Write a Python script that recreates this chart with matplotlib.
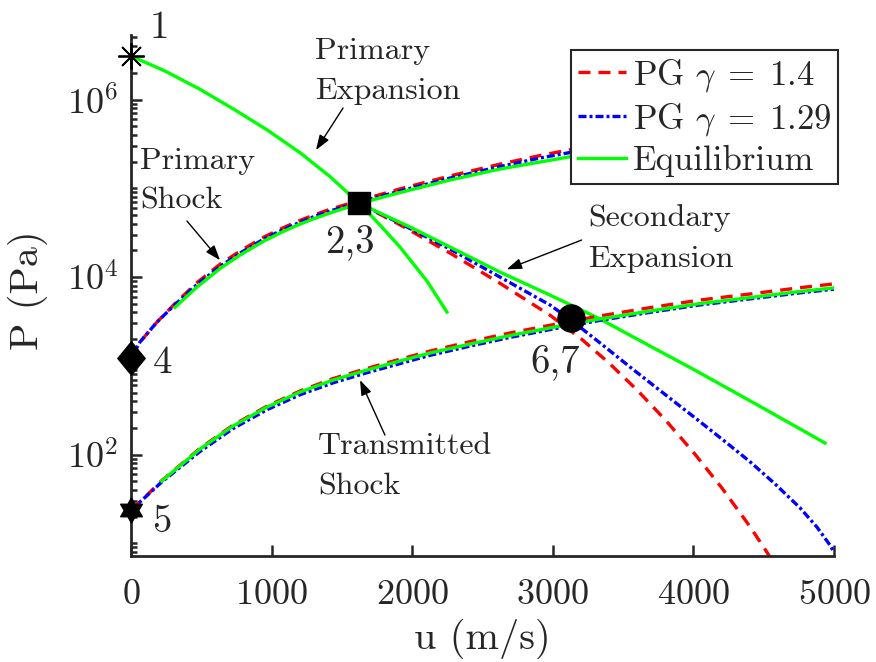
import numpy as np
import matplotlib
matplotlib.use('Agg')
import matplotlib.pyplot as plt
from matplotlib.path import Path
from matplotlib.patches import ArrowStyle
from matplotlib.ticker import LogLocator, NullFormatter

plt.rcParams.update({
    'font.family': 'serif',
    'font.serif': ['cmr10'],
    'mathtext.fontset': 'cm',
    'axes.formatter.use_mathtext': True,
    'axes.unicode_minus': False,
})

INK = '#262626'

# values; pressures given as log10(P / Pa)
# primary expansion (equilibrium only), from state 1 through 2,3
u_pexp = [0, 242, 491, 740, 967, 1202, 1415, 1624, 1771, 1913, 2105, 2247]
lp_pexp_eq = [6.49, 6.321, 6.115, 5.882, 5.659, 5.401, 5.132, 4.830, 4.586,
              4.338, 3.955, 3.606]

# primary shock, from state 4
u_pshk = [0, 64, 185, 313, 469, 633, 782, 939, 1060, 1181, 1294, 1415, 1522,
          1622, 1913, 2269, 2624, 2909, 3336, 4047, 5000]
lp_pshk_14 = [3.087, 3.268, 3.493, 3.701, 3.937, 4.144, 4.299, 4.445, 4.539,
              4.625, 4.695, 4.763, 4.814, 4.861, 4.993, 5.139, 5.272, 5.369,
              5.501, 5.692, 5.919]
lp_pshk_129 = [3.087, 3.268, 3.493, 3.690, 3.916, 4.119, 4.276, 4.423, 4.518,
               4.603, 4.676, 4.743, 4.796, 4.845, 4.969, 5.115, 5.245, 5.341,
               5.465, 5.645, 5.859]
u_pshk_eq = [313, 469, 633, 782, 939, 1060, 1181, 1294, 1415, 1522, 1622,
             1913, 2269, 2624, 2909, 3336, 4047, 5000]
lp_pshk_eq = [3.659, 3.887, 4.096, 4.254, 4.400, 4.496, 4.583, 4.654, 4.721,
              4.777, 4.828, 4.952, 5.093, 5.217, 5.296, 5.414, 5.589, 5.792]

# secondary expansion, from state 2,3
u_sexp_14 = [1622, 1900, 2269, 2624, 2980, 3200, 3400, 3600, 3800, 4000, 4200,
             4400, 4523, 4600]
lp_sexp_14 = [4.83, 4.60, 4.27, 3.93, 3.57, 3.306, 3.031, 2.726, 2.391, 2.026,
              1.629, 1.194, 0.90, 0.70]
u_sexp_129 = [1622, 1900, 2269, 2624, 2980, 3130, 3350, 3570, 3800, 4047, 4230,
              4402, 4580, 4758, 4880, 4971, 5000]
lp_sexp_129 = [4.83, 4.615, 4.315, 4.0, 3.685, 3.515, 3.24, 2.96, 2.675, 2.37,
               2.14, 1.92, 1.67, 1.40, 1.18, 0.98, 0.90]
u_sexp_eq = [1622, 2000, 2269, 2624, 2980, 3336, 3700, 3997, 4495, 4936]
lp_sexp_eq = [4.83, 4.552, 4.338, 4.056, 3.797, 3.527, 3.215, 2.963, 2.524,
              2.13]

# transmitted shock, from state 5
u_tshk = [0, 107, 218, 491, 725, 967, 1202, 1437, 1678, 1913, 2127, 2411, 2695,
          3051, 3336, 3691, 4047, 4403, 4758, 5000]
lp_tshk_14 = [1.375, 1.532, 1.705, 2.07, 2.331, 2.545, 2.716, 2.856, 2.97,
              3.074, 3.166, 3.272, 3.37, 3.478, 3.562, 3.655, 3.741, 3.809,
              3.88, 3.923]
lp_tshk_129 = [1.375, 1.528, 1.69, 2.035, 2.292, 2.505, 2.674, 2.808, 2.922,
               3.025, 3.118, 3.222, 3.32, 3.43, 3.512, 3.602, 3.686, 3.754,
               3.822, 3.863]
u_tshk_eq = [218, 491, 725, 967, 1202, 1437, 1678, 1913, 2127, 2411, 2695,
             3051, 3336, 3691, 4047, 4403, 4758, 5000]
lp_tshk_eq = [1.701, 2.062, 2.321, 2.535, 2.704, 2.839, 2.952, 3.054, 3.144,
              3.245, 3.341, 3.448, 3.528, 3.617, 3.701, 3.769, 3.837, 3.878]

# states 1, 2/3, 4, 5, 6/7
state_u = [0, 1624, 0, 0, 3130]
state_lp = [6.49, 4.83, 3.087, 1.375, 3.535]


def P(lp):
    return 10.0 ** np.asarray(lp)


# marker shapes
diamond = Path([(0, 1), (0.82, 0), (0, -1), (-0.82, 0), (0, 1)],
               [Path.MOVETO, Path.LINETO, Path.LINETO, Path.LINETO,
                Path.CLOSEPOLY])
ang = np.deg2rad(90 + 30 * np.arange(12))
rad = np.where(np.arange(12) % 2 == 0, 1.0, 1 / np.sqrt(3))
hexv = np.column_stack([rad * np.cos(ang), rad * np.sin(ang)])
hexagram = Path(np.vstack([hexv, hexv[:1]]),
                [Path.MOVETO] + [Path.LINETO] * 11 + [Path.CLOSEPOLY])

fig = plt.figure(figsize=(8.76, 6.62), dpi=100)
ax = fig.add_axes([131 / 876, 106 / 662, 703 / 876, 521 / 662])

red = dict(color='#ff0000', lw=2.4, linestyle=(0, (3.6, 2.4)))
blue = dict(color='#0000ff', lw=2.4, linestyle=(0, (2.4, 0.9, 0.9, 0.9)))
green = dict(color='#00ff00', lw=2.4, linestyle='-')

ax.plot(u_pshk, P(lp_pshk_14), **red, label=r'PG $\gamma\;=\;1.4$')
ax.plot(u_pshk, P(lp_pshk_129), **blue, label=r'PG $\gamma\;=\;1.29$')
ax.plot(u_pshk_eq, P(lp_pshk_eq), **green, label='Equilibrium')

ax.plot(u_sexp_14, P(lp_sexp_14), **red)
ax.plot(u_sexp_129, P(lp_sexp_129), **blue)
ax.plot(u_sexp_eq, P(lp_sexp_eq), **green)

ax.plot(u_tshk, P(lp_tshk_14), **red)
ax.plot(u_tshk, P(lp_tshk_129), **blue)
ax.plot(u_tshk_eq, P(lp_tshk_eq), **green)

ax.plot(u_pexp, P(lp_pexp_eq), **green)

# state markers
ax.plot(state_u[0], P(state_lp[0]), marker=(8, 2, 0), ms=19, mew=1.3,
        color='k', clip_on=False, zorder=5)
ax.plot(state_u[1], P(state_lp[1]), marker='s', ms=16, color='k',
        clip_on=False, zorder=5)
ax.plot(state_u[2], P(state_lp[2]), marker=diamond, ms=24, color='k',
        clip_on=False, zorder=5)
ax.plot(state_u[3], P(state_lp[3]), marker=hexagram, ms=18, color='k',
        clip_on=False, zorder=5)
ax.plot(state_u[4], P(state_lp[4]), marker='o', ms=19.5, color='k',
        clip_on=False, zorder=5)

# state labels
lab = dict(fontsize=28, color=INK)
ax.text(135, P(6.693), '1', ha='left', va='baseline', **lab)
ax.text(1558, P(4.27), '2,3', ha='center', va='baseline', **lab)
ax.text(156, P(2.918), '4', ha='left', va='baseline', **lab)
ax.text(149, P(1.127), '5', ha='left', va='baseline', **lab)
ax.text(3015, P(2.918), '6,7', ha='center', va='baseline', **lab)

# wave annotations
note = dict(fontsize=23, color=INK, ha='left', va='center', linespacing=1.6)
head = ArrowStyle('-|>', head_length=0.7, head_width=0.25)
arw = dict(arrowstyle=head, color='k', lw=1.0, mutation_scale=13,
           shrinkA=0, shrinkB=0)

ax.text(1309, P(6.321), 'Primary\nExpansion', **note)
ax.annotate('', xy=(1316, P(5.431)), xytext=(1508, P(5.904)), arrowprops=arw)

ax.text(64, P(5.082), 'Primary\nShock', **note)
ax.annotate('', xy=(633, P(4.19)), xytext=(398, P(4.631)), arrowprops=arw)

ax.text(3250, P(4.434), 'Secondary\nExpansion', **note)
ax.annotate('', xy=(2672, P(4.087)), xytext=(3205, P(4.417)), arrowprops=arw)

ax.text(1330, P(1.863), 'Transmitted\nShock', **note)
ax.annotate('', xy=(1629, P(2.839)), xytext=(1806, P(2.22)), arrowprops=arw)

# axes
ax.set_yscale('log')
ax.set_xlim(0, 5000)
ax.set_ylim(P(0.857), P(6.727))
ax.set_xticks([0, 1000, 2000, 3000, 4000, 5000])
ax.set_yticks([1e2, 1e4, 1e6])
ax.set_yticklabels(['$10^{2}$', '$10^{4}$', '$10^{6}$'])
ax.yaxis.set_minor_locator(LogLocator(base=10, subs=np.arange(1, 10),
                                      numticks=20))
ax.yaxis.set_minor_formatter(NullFormatter())

for side in ('top', 'right'):
    ax.spines[side].set_visible(False)
for side in ('left', 'bottom'):
    ax.spines[side].set_linewidth(2.0)
    ax.spines[side].set_color(INK)

ax.tick_params(which='both', direction='in', color=INK, width=1.8,
               labelcolor=INK, labelsize=26)
ax.tick_params(which='major', length=8)
ax.tick_params(which='minor', length=4.5)
ax.tick_params(axis='x', pad=17)
ax.tick_params(axis='y', pad=9)

ax.set_xlabel('u (m/s)', fontsize=29, color=INK)
ax.set_ylabel('P (Pa)', fontsize=29, color=INK)
ax.xaxis.set_label_coords(0.4993, -0.12)
ax.yaxis.set_label_coords(-0.118, 0.51)

leg = ax.legend(loc='upper right', bbox_to_anchor=(1.006, 0.971),
                borderaxespad=0, fontsize=25, handlelength=1.38,
                handletextpad=0.2, borderpad=0.2, labelspacing=0.2,
                fancybox=False, framealpha=1, edgecolor=INK)
leg.get_frame().set_linewidth(1.5)
for t in leg.get_texts():
    t.set_color(INK)

fig.savefig('out.png', dpi=100)
